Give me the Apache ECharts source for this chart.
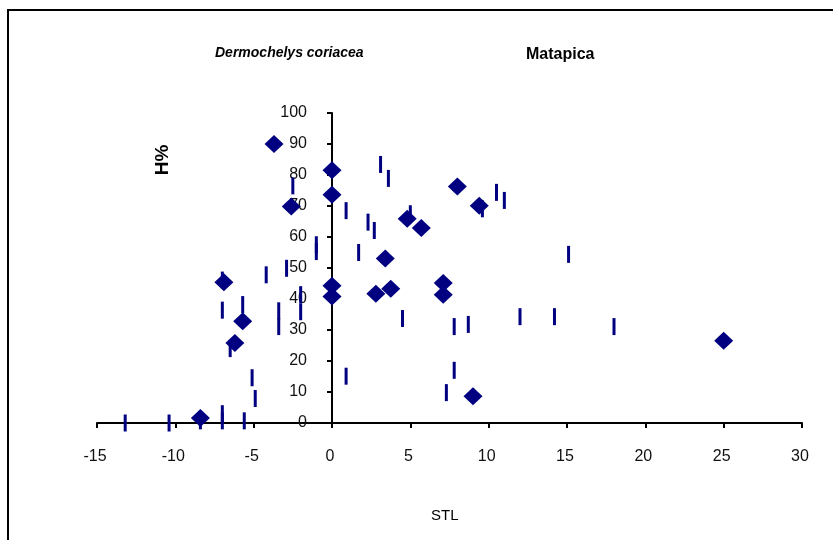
<!DOCTYPE html>
<html>
<head>
<meta charset="utf-8">
<script src="https://cdn.jsdelivr.net/npm/echarts@6/dist/echarts.min.js"></script>
<style>
  html, body { margin: 0; padding: 0; background: #fff; }
  #chart { width: 833px; height: 540px; }
</style>
</head>
<body>
<div id="chart"></div>
<script>
// diamonds (H% vs STL)
const diamondX = [-3.7, 0, 0, -2.6, -6.9, -5.7, -6.2, -8.4, 0, 0, 8, 9.4, 4.8, 5.7, 3.4, 2.8, 3.75, 7.1, 7.1, 9, 25];
const diamondY = [90, 81.5, 73.6, 69.8, 45.4, 32.8, 25.8, 1.6, 44.3, 40.8, 76.3, 70.1, 65.9, 62.9, 53.1, 41.7, 43.3, 45.2, 41.4, 8.6, 26.5];

// vertical dash markers
const dashX = [-2.5, 0.9, -1, -1, -2.9, -4.2, -7, -7, -5.7, -6.5, -3.4, -3.4, -2, -2, -5.1, -4.9, 0.9,
  -13.2, -10.4, -8.4, -7, -7, -5.6, 3.1, 3.6, 2.3, 2.7, 5, 10.5, 11, 9.6, 1.7, 15.1,
  4.5, 7.8, 8.7, 12, 14.2, 18, 7.8, 7.3];
const dashY = [76.5, 68.5, 57.5, 55.3, 49.9, 47.8, 46.1, 36.4, 38.2, 24, 36.2, 31.1, 41.4, 35.9, 14.6, 7.9, 15.1,
  0, 0, 0.7, 3, 0.7, 0.7, 83.4, 78.9, 64.8, 62.1, 67.5, 74.4, 71.8, 69.1, 55, 54.4,
  33.7, 31.1, 31.8, 34.3, 34.3, 31.1, 17, 9.8];

const FONT = "'Liberation Sans', Arial, sans-serif";
const NAVY = "#000080";

const chart = echarts.init(document.getElementById("chart"));

function txt(text, x, y, font, extra) {
  return Object.assign({
    type: "text",
    x: x, y: y,
    style: {
      text: text, font: font, fill: "#000",
      align: "left", verticalAlign: "alphabetic",
      textAlign: "left", textVerticalAlign: "alphabetic"
    }
  }, extra || {});
}

chart.setOption({
  animation: false,
  grid: { left: 97, right: 31, top: 113, bottom: 117, containLabel: false },
  xAxis: {
    type: "value",
    min: -15, max: 30, interval: 5,
    splitLine: { show: false },
    axisLine: { onZero: false, lineStyle: { color: "#000", width: 2 } },
    axisTick: { length: 5, lineStyle: { color: "#000", width: 2 } },
    axisLabel: { color: "#111", fontFamily: FONT, fontSize: 16, margin: 26, padding: [0, 4, 0, 0] }
  },
  yAxis: {
    type: "value",
    min: 0, max: 100, interval: 10,
    // y axis sits at STL = 0 (x pixel 332, grid starts at 97)
    offset: -235,
    splitLine: { show: false },
    axisLine: { onZero: false, lineStyle: { color: "#000", width: 2 } },
    axisTick: { length: 5, lineStyle: { color: "#000", width: 2 } },
    axisLabel: { color: "#111", fontFamily: FONT, fontSize: 16, margin: 25, padding: [5, 0, 0, 0] }
  },
  series: [
    {
      type: "scatter",
      symbol: "rect",
      symbolSize: [3, 17],
      itemStyle: { color: NAVY, opacity: 1 },
      data: dashX.map((x, i) => [x, dashY[i]])
    },
    {
      type: "scatter",
      symbol: "diamond",
      symbolSize: [19, 18],
      itemStyle: { color: NAVY, opacity: 1 },
      data: diamondX.map((x, i) => [x, diamondY[i]])
    }
  ],
  graphic: [
    {
      type: "rect",
      shape: { x: 8, y: 10, width: 900, height: 700 },
      style: { fill: "none", stroke: "#000", lineWidth: 2 },
      silent: true
    },
    txt("Dermochelys coriacea", 215, 46, "italic bold 14px " + FONT),
    txt("Matapica", 526, 47, "bold 16px " + FONT),
    txt("STL", 431, 508, "15px " + FONT),
    {
      type: "text",
      x: 163, y: 160,
      rotation: Math.PI / 2,
      style: {
        text: "H%", font: "bold 19px " + FONT, fill: "#000",
        align: "center", verticalAlign: "middle",
        textAlign: "center", textVerticalAlign: "middle"
      }
    }
  ]
});
</script>
</body>
</html>
